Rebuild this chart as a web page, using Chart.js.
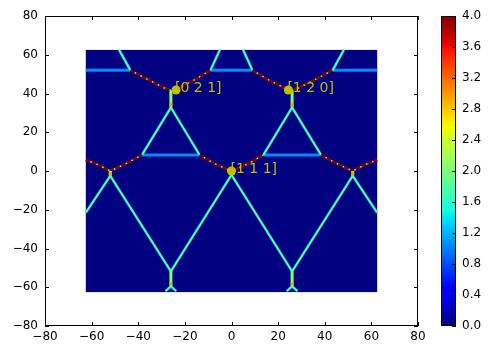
<!DOCTYPE html>
<html>
<head>
<meta charset="utf-8">
<script src="https://cdn.jsdelivr.net/npm/chart.js@4.4.0/dist/chart.umd.min.js"></script>
<style>
body { margin: 0; background: #fff; }
#wrap { position: relative; width: 493px; height: 356px; }
#wrap canvas { position: absolute; left: 0; top: 0; }
</style>
</head>
<body>
<div id="wrap">
<canvas id="mapChart" width="493" height="356"></canvas>
<canvas id="barChart" width="493" height="356"></canvas>
</div>
<script>
// axis ticks
const xTicks = [-80, -60, -40, -20, 0, 20, 40, 60, 80];
const yTicks = [-80, -60, -40, -20, 0, 20, 40, 60, 80];
const colorTicks = [0.0, 0.4, 0.8, 1.2, 1.6, 2.0, 2.4, 2.8, 3.2, 3.6, 4.0];

// extent of the intensity map and its background level
const mapX = [-62.5, 62.5];
const mapY = [-62.5, 62.5];
const baseLevel = 0.0;

// band edges (flat horizontal lines)
const bandLevel = 1.05;
const bandLines = [
    [[-62.5, 52], [-43.4, 52]],
    [[-9, 52], [9, 52]],
    [[43.4, 52], [62.5, 52]],
    [[-38.4, 8.3], [-13.7, 8.3]],
    [[13.7, 8.3], [38.4, 8.3]]
];

// kikuchi lines (edge / core intensity)
const lineEdgeLevel = 1.35;
const lineCoreLevel = 2.0;
const kikuchiLines = [
    [[-48.2, 62.5], [-43.4, 52]],
    [[-5, 62.5], [-9, 52]],
    [[5, 62.5], [9, 52]],
    [[48.2, 62.5], [43.4, 52]],
    [[-38.4, 8.3], [-26, 32.8], [-13.7, 8.3]],
    [[13.7, 8.3], [26, 32.8], [38.4, 8.3]],
    [[-62.5, -21.5], [-52, -2.5], [-26, -51.8], [0, -2], [26, -51.8], [52, -2.5], [62.5, -21.5]],
    [[-28.3, -62], [-26, -59.5], [-23.7, -62]],
    [[23.7, -62], [26, -59.5], [28.3, -62]]
];

// excess lines (saturated)
const excessLevel = 4.0;
const gapLevel = 2.0;
const excessLines = [
    [[-43.4, 52], [-36, 47.3], [-29, 43], [-25.8, 41.6], [-22.5, 43], [-15.5, 47.3], [-9, 52]],
    [[9, 52], [15.5, 47.3], [22.5, 43], [25.8, 41.6], [29, 43], [36, 47.3], [43.4, 52]],
    [[-62.5, 5.8], [-57, 3.1], [-52, 0], [-44.9, 4.0], [-38.4, 8.3]],
    [[-13.7, 8.3], [-7.6, 4.0], [-1.9, 0.9], [0, 0.3], [1.9, 0.9], [7.6, 4.0], [13.7, 8.3]],
    [[38.4, 8.3], [44.9, 4.0], [52, 0], [57, 3.1], [62.5, 5.8]]
];

// short bars under the poles
const poleBarLevel = 2.0;
const poleBars = [
    [[-26, 41.6], [-26, 32.8]],
    [[26, 41.6], [26, 32.8]],
    [[-26, -51.8], [-26, -59.5]],
    [[26, -51.8], [26, -59.5]],
    [[-52, 0], [-52, -2.5]],
    [[52, 0], [52, -2.5]],
    [[0, 0], [0, -2]]
];
const hotLevel = 3.0;
const hotSpots = [
    [[-26, 35], [-26, 33.5]],
    [[26, 35], [26, 33.5]],
    [[-26, -57.6], [-26, -58.8]],
    [[26, -57.6], [26, -58.8]],
    [[-52, -0.8], [-52, -2.2]],
    [[52, -0.8], [52, -2.2]]
];

// poles
const poleNames = ['[0 2 1]', '[1 2 0]', '[1 1 1]'];
const poleX = [-23.8, 24.4, 0];
const poleY = [41.8, 41.8, 0];

const FONT = 'DejaVu Sans';
const vmin = colorTicks[0];
const vmax = colorTicks[colorTicks.length - 1];

// matplotlib jet
function jet(v) {
    const t = Math.min(1, Math.max(0, (v - vmin) / (vmax - vmin)));
    const seg = (pts) => {
        for (let i = 1; i < pts.length; i++) {
            if (t <= pts[i][0]) {
                const [x0, y0] = pts[i - 1], [x1, y1] = pts[i];
                return y0 + (y1 - y0) * (t - x0) / (x1 - x0);
            }
        }
        return pts[pts.length - 1][1];
    };
    const r = seg([[0, 0], [0.35, 0], [0.66, 1], [0.89, 1], [1, 0.5]]);
    const g = seg([[0, 0], [0.125, 0], [0.375, 1], [0.64, 1], [0.91, 0], [1, 0]]);
    const b = seg([[0, 0.5], [0.11, 1], [0.34, 1], [0.65, 0], [1, 0]]);
    return `rgb(${Math.round(r * 255)},${Math.round(g * 255)},${Math.round(b * 255)})`;
}
const jetStops = [0, 0.11, 0.125, 0.34, 0.35, 0.375, 0.64, 0.65, 0.66, 0.89, 0.91, 1];

function lineSet(pts, color, width, order, dash) {
    return {
        type: 'scatter',
        data: pts.map(p => ({ x: p[0], y: p[1] })),
        showLine: true,
        borderColor: color,
        borderWidth: width,
        borderDash: dash || [],
        borderCapStyle: 'butt',
        pointRadius: 0,
        pointHoverRadius: 0,
        tension: 0,
        order: order
    };
}

const datasets = [];
datasets.push({
    type: 'scatter',
    data: poleX.map((x, i) => ({ x: x, y: poleY[i] })),
    pointRadius: 4.5,
    pointBackgroundColor: '#bfbf00',
    pointBorderColor: '#bfbf00',
    pointBorderWidth: 0,
    showLine: false,
    order: 0
});
const poleIndex = 0;
hotSpots.forEach(p => datasets.push(lineSet(p, jet(hotLevel), 3, 1)));
poleBars.forEach(p => datasets.push(lineSet(p, jet(poleBarLevel), 3, 2)));
excessLines.forEach(p => datasets.push(lineSet(p, jet(excessLevel), 3, 3, [5, 1.5])));
excessLines.forEach(p => datasets.push(lineSet(p, jet(gapLevel), 1.6, 4)));
kikuchiLines.forEach(p => datasets.push(lineSet(p, jet(lineCoreLevel), 1.2, 5)));
kikuchiLines.forEach(p => datasets.push(lineSet(p, jet(lineEdgeLevel), 2.6, 6)));
bandLines.forEach(p => datasets.push(lineSet(p, jet(bandLevel), 3, 7)));

// 背景の強度マップ
const mapBackground = {
    id: 'mapBackground',
    beforeDatasetsDraw(chart) {
        const { ctx, scales: { x, y } } = chart;
        const x0 = x.getPixelForValue(mapX[0]), x1 = x.getPixelForValue(mapX[1]);
        const y0 = y.getPixelForValue(mapY[1]), y1 = y.getPixelForValue(mapY[0]);
        ctx.save();
        ctx.fillStyle = jet(baseLevel);
        ctx.fillRect(x0, y0, x1 - x0, y1 - y0);
        ctx.restore();
    }
};

// 枠と内向きの目盛り
const frameTicks = {
    id: 'frameTicks',
    afterDraw(chart) {
        const { ctx, chartArea: { left, right, top, bottom }, scales: { x, y } } = chart;
        ctx.save();
        ctx.strokeStyle = '#000';
        ctx.lineWidth = 1;
        ctx.strokeRect(left + 0.5, top + 0.5, right - left - 1, bottom - top - 1);
        ctx.beginPath();
        xTicks.forEach(v => {
            const px = Math.round(x.getPixelForValue(v)) + 0.5;
            ctx.moveTo(px, bottom); ctx.lineTo(px, bottom - 4);
            ctx.moveTo(px, top); ctx.lineTo(px, top + 4);
        });
        yTicks.forEach(v => {
            const py = Math.round(y.getPixelForValue(v)) + 0.5;
            ctx.moveTo(left, py); ctx.lineTo(left + 4, py);
            ctx.moveTo(right, py); ctx.lineTo(right - 4, py);
        });
        ctx.stroke();
        ctx.restore();
    }
};

// 極のラベル
const poleLabels = {
    id: 'poleLabels',
    afterDatasetsDraw(chart) {
        const { ctx } = chart;
        const meta = chart.getDatasetMeta(poleIndex);
        ctx.save();
        ctx.font = `14px "${FONT}"`;
        ctx.fillStyle = '#bfbf00';
        ctx.textAlign = 'left';
        ctx.textBaseline = 'alphabetic';
        meta.data.forEach((pt, i) => {
            ctx.fillText(poleNames[i], pt.x - 1, pt.y + 2);
        });
        ctx.restore();
    }
};

const fmt = v => (v < 0 ? '\u2212' + Math.abs(v) : String(v));
const tickFont = { family: FONT, size: 12 };

new Chart(document.getElementById('mapChart'), {
    type: 'scatter',
    data: { datasets },
    options: {
        responsive: false,
        animation: false,
        events: [],
        layout: { padding: { left: 0, right: 75, top: 16, bottom: 0 } },
        plugins: { legend: { display: false }, tooltip: { enabled: false } },
        scales: {
            x: {
                type: 'linear', min: -80, max: 80,
                afterBuildTicks: s => { s.ticks = xTicks.map(v => ({ value: v })); },
                afterFit: s => { s.height = 30; },
                grid: { display: false, drawTicks: false, tickLength: 0 },
                border: { display: false },
                ticks: { color: '#000', font: tickFont, padding: 4, maxRotation: 0, autoSkip: false, callback: fmt }
            },
            y: {
                type: 'linear', min: -80, max: 80,
                afterBuildTicks: s => { s.ticks = yTicks.map(v => ({ value: v })); },
                afterFit: s => { s.width = 45; },
                grid: { display: false, drawTicks: false, tickLength: 0 },
                border: { display: false },
                ticks: { color: '#000', font: tickFont, padding: 7, autoSkip: false, callback: fmt }
            }
        }
    },
    plugins: [mapBackground, frameTicks, poleLabels]
});

// カラーバー
const barFrame = {
    id: 'barFrame',
    afterDraw(chart) {
        const { ctx, chartArea: { left, right, top, bottom }, scales: { y } } = chart;
        ctx.save();
        ctx.strokeStyle = '#000';
        ctx.lineWidth = 1;
        ctx.strokeRect(left + 0.5, top + 0.5, right - left - 1, bottom - top - 1);
        ctx.beginPath();
        colorTicks.forEach(v => {
            const py = Math.round(y.getPixelForValue(v)) + 0.5;
            ctx.moveTo(right, py); ctx.lineTo(right - 4, py);
        });
        ctx.stroke();
        ctx.restore();
    }
};

new Chart(document.getElementById('barChart'), {
    type: 'bar',
    data: {
        labels: [''],
        datasets: [{
            data: [[vmin, vmax]],
            backgroundColor: (c) => {
                const area = c.chart.chartArea;
                if (!area) return jet(vmin);
                const g = c.chart.ctx.createLinearGradient(0, area.bottom, 0, area.top);
                jetStops.forEach(t => g.addColorStop(t, jet(vmin + t * (vmax - vmin))));
                return g;
            },
            borderWidth: 0,
            barPercentage: 1,
            categoryPercentage: 1
        }]
    },
    options: {
        responsive: false,
        animation: false,
        events: [],
        layout: { padding: { left: 441, right: 0, top: 16, bottom: 30 } },
        plugins: { legend: { display: false }, tooltip: { enabled: false } },
        scales: {
            x: { display: false },
            y: {
                position: 'right', min: vmin, max: vmax,
                afterBuildTicks: s => { s.ticks = colorTicks.map(v => ({ value: v })); },
                afterFit: s => { s.width = 37; },
                grid: { display: false, drawTicks: false, tickLength: 0 },
                border: { display: false },
                ticks: { color: '#000', font: tickFont, padding: 6, autoSkip: false, callback: v => v.toFixed(1) }
            }
        }
    },
    plugins: [barFrame]
});
</script>
</body>
</html>
